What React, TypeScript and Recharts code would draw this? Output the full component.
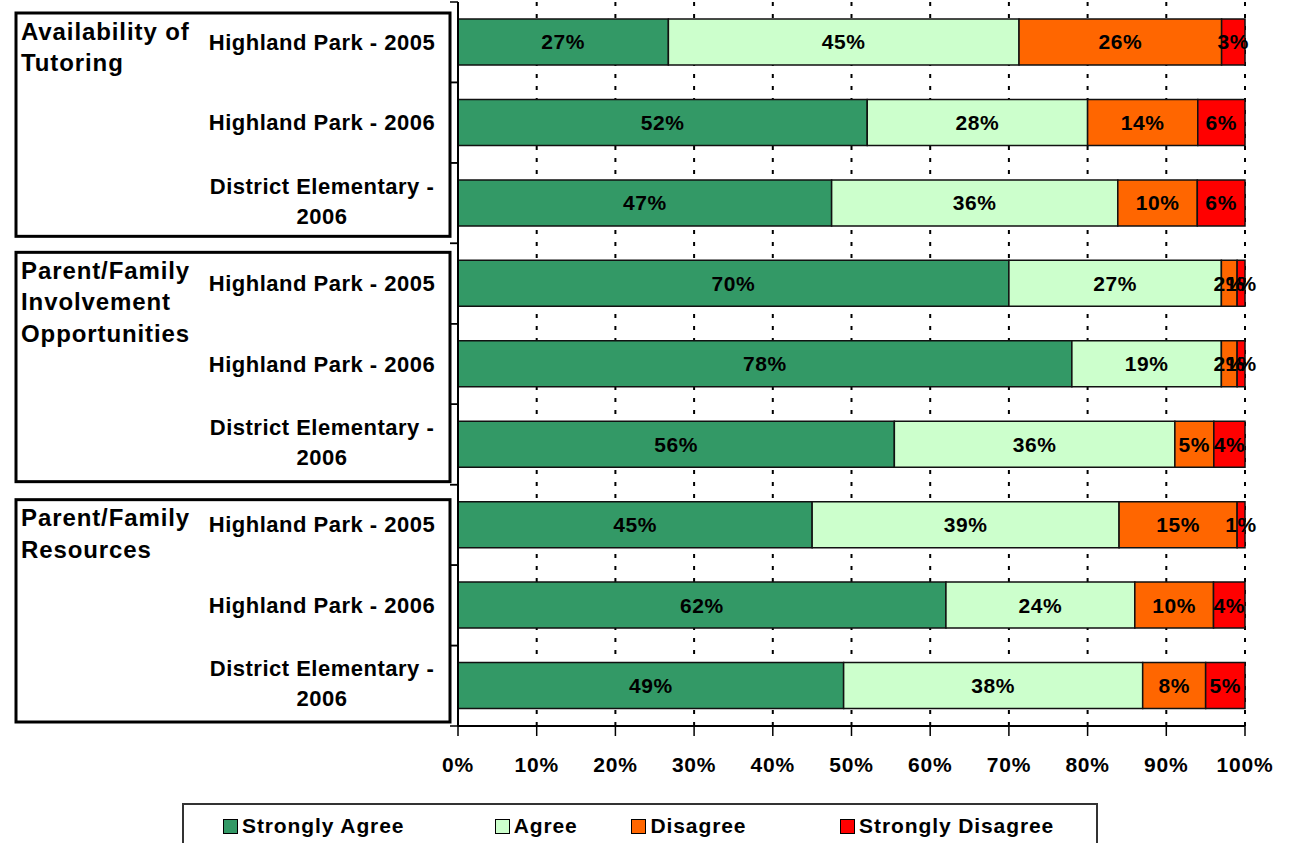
import React from "react";
import {
  BarChart,
  Bar,
  XAxis,
  YAxis,
  CartesianGrid,
  LabelList,
  Legend,
} from "recharts";

// ---------- DATA ----------
const categoryLines: string[][] = [
  ["Highland Park - 2005"],
  ["Highland Park - 2006"],
  ["District Elementary -", "2006"],
  ["Highland Park - 2005"],
  ["Highland Park - 2006"],
  ["District Elementary -", "2006"],
  ["Highland Park - 2005"],
  ["Highland Park - 2006"],
  ["District Elementary -", "2006"],
];
const groupLabels: string[][] = [
  ["Availability of", "Tutoring"],
  ["Parent/Family", "Involvement", "Opportunities"],
  ["Parent/Family", "Resources"],
];
const stronglyAgree = [27, 52, 47, 70, 78, 56, 45, 62, 49];
const agree = [45, 28, 36, 27, 19, 36, 39, 24, 38];
const disagree = [26, 14, 10, 2, 2, 5, 15, 10, 8];
const stronglyDisagree = [3, 6, 6, 1, 1, 4, 1, 4, 5];
const seriesNames = ["Strongly Agree", "Agree", "Disagree", "Strongly Disagree"];
const seriesKeys = ["sa", "a", "d", "sd"];
const seriesColors = ["#339966", "#CCFFCC", "#FF6600", "#FF0000"];
const xTicks = [0, 0.1, 0.2, 0.3, 0.4, 0.5, 0.6, 0.7, 0.8, 0.9, 1];

const data = categoryLines.map((lines, i) => ({
  id: `r${i}`,
  sa: stronglyAgree[i],
  a: agree[i],
  d: disagree[i],
  sd: stronglyDisagree[i],
}));

// ---------- LAYOUT ----------
const W = 1289;
const H = 843;
const M_TOP = 2;
const X_AXIS_H = 117;
const Y_AXIS_W = 458;
const M_RIGHT = 44;
const PLOT_H = H - M_TOP - X_AXIS_H;
const BAND = PLOT_H / categoryLines.length;
const FONT = "'Liberation Sans', Arial, Helvetica, sans-serif";

const boxTopInset = [11, 9, 15];
const boxBottomInset = [7, 3, 4];
const groupTextInset = [29, 27, 33];

const YTick = (props: any) => {
  const { y, index } = props;
  const lines = categoryLines[index] || [];
  const cx = Y_AXIS_W - 136;
  const top = y - BAND / 2;
  const gi = Math.floor(index / 3);
  const isGroupStart = index % 3 === 0;
  const lineH = 30;
  const startY = y - ((lines.length - 1) * lineH) / 2 - (lines.length > 1 ? 2 : 0);
  return (
    <g>
      {isGroupStart && (
        <g>
          <rect
            x={16}
            y={top + boxTopInset[gi]}
            width={Y_AXIS_W - 8 - 16}
            height={3 * BAND - boxTopInset[gi] - boxBottomInset[gi]}
            fill="none"
            stroke="#000"
            strokeWidth={3}
          />
          {groupLabels[gi].map((t, k) => (
            <text
              key={k}
              x={21}
              y={top + groupTextInset[gi] + k * 31.5}
              dominantBaseline="central"
              fontFamily={FONT}
              fontWeight="bold"
              fontSize={24}
              letterSpacing={0.9}
              fill="#000"
            >
              {t}
            </text>
          ))}
        </g>
      )}
      <line x1={Y_AXIS_W - 8} x2={Y_AXIS_W} y1={top} y2={top} stroke="#000" strokeWidth={1.5} />
      <line x1={Y_AXIS_W - 8} x2={Y_AXIS_W} y1={top + BAND} y2={top + BAND} stroke="#000" strokeWidth={1.5} />
      {lines.map((t, k) => (
        <text
          key={k}
          x={cx}
          y={startY + k * lineH}
          textAnchor="middle"
          dominantBaseline="central"
          fontFamily={FONT}
          fontWeight="bold"
          fontSize={22}
          letterSpacing={0.5}
          fill="#000"
        >
          {t}
        </text>
      ))}
    </g>
  );
};

const LegendContent = () => (
  <div
    style={{
      width: 916,
      height: 60,
      border: "2px solid #333",
      boxSizing: "border-box",
      display: "flex",
      alignItems: "flex-start",
      paddingTop: 9,
      paddingLeft: 39,
      fontFamily: FONT,
      fontWeight: "bold",
      fontSize: 21,
      letterSpacing: 0.9,
      color: "#000",
    }}
  >
    {seriesNames.map((n, i) => (
      <div
        key={n}
        style={{
          display: "flex",
          alignItems: "center",
          width: [276, 139, 212, 260][i],
        }}
      >
        <span
          style={{
            display: "inline-block",
            width: 15,
            height: 15,
            background: seriesColors[i],
            border: "1.5px solid #000",
            boxSizing: "border-box",
            marginRight: 4,
          }}
        />
        <span>{n}</span>
      </div>
    ))}
  </div>
);

const fmtPct = (v: any) => `${v}%`;

export default function App() {
  return (
    <div style={{ position: "absolute", left: 0, top: 0, width: W, height: H, background: "#fff", fontFamily: FONT }}>
      <BarChart
        width={W}
        height={H}
        data={data}
        layout="vertical"
        stackOffset="expand"
        margin={{ top: M_TOP, right: M_RIGHT, bottom: 0, left: 0 }}
        barSize={46}
      >
        <CartesianGrid
          horizontal={false}
          vertical={true}
          stroke="#000"
          strokeWidth={2}
          strokeDasharray="4 8"
        />
        <XAxis
          type="number"
          domain={[0, 1]}
          ticks={xTicks}
          tickFormatter={(v: number) => `${Math.round(v * 100)}%`}
          height={X_AXIS_H}
          axisLine={{ stroke: "#000", strokeWidth: 2 }}
          tickLine={{ stroke: "#000", strokeWidth: 1.5 }}
          tickSize={10}
          tickMargin={21}
          interval={0}
          tick={{ fill: "#000", fontSize: 21, fontWeight: "bold", fontFamily: FONT, letterSpacing: 0.8 } as any}
        />
        <YAxis
          type="category"
          dataKey="id"
          width={Y_AXIS_W}
          axisLine={{ stroke: "#000", strokeWidth: 2 }}
          tickLine={false}
          tick={<YTick />}
          interval={0}
        />
        <Legend
          layout="horizontal"
          verticalAlign="middle"
          align="center"
          wrapperStyle={{ left: 182, top: 803, width: 916, height: 60 }}
          content={<LegendContent />}
        />
        {seriesKeys.map((k, i) => (
          <Bar
            key={k}
            dataKey={k}
            name={seriesNames[i]}
            stackId="s"
            fill={seriesColors[i]}
            stroke="#111"
            strokeWidth={1.5}
            isAnimationActive={false}
          >
            <LabelList
              dataKey={k}
              position="center"
              formatter={fmtPct}
              fill="#000"
              fontSize={21}
              fontWeight="bold"
              fontFamily={FONT}
              letterSpacing={0.6}
            />
          </Bar>
        ))}
      </BarChart>
    </div>
  );
}
